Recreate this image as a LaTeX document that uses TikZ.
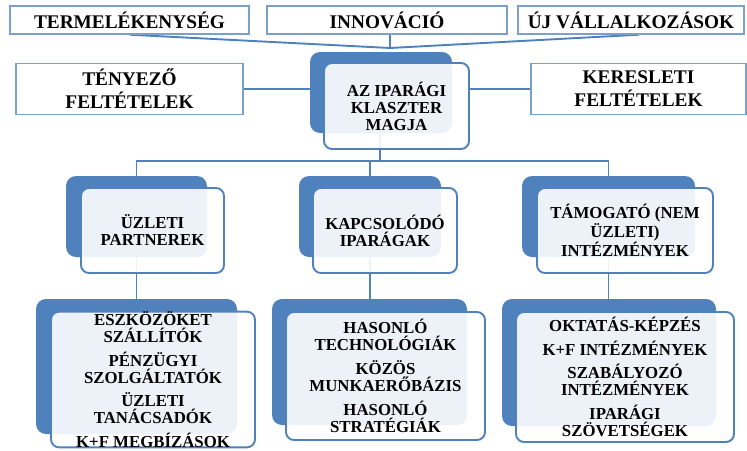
\documentclass[tikz,border=0pt]{standalone}
\usepackage{fontspec}
\setmainfont{Liberation Serif}
\usetikzlibrary{backgrounds}
\definecolor{accent}{HTML}{4F81BD}
\definecolor{frame}{HTML}{7BA0CE}
\tikzset{
  topbox/.style={draw=frame, line width=1.4pt, fill=white, inner sep=0pt,
    align=center, font=\fontsize{19.3}{23}\selectfont\bfseries},
  backbox/.style={fill=accent, rounded corners=10pt, inner sep=0pt},
  frontbox/.style={draw=accent, line width=1.9pt, fill=white, fill opacity=0.9,
    text opacity=1, rounded corners=8pt, inner sep=0pt, align=center,
    font=\fontsize{16.8}{17}\selectfont\bfseries},
  link/.style={draw=accent, line width=1.9pt}
}
\begin{document}
\begin{tikzpicture}[x=1pt,y=-1pt]
\useasboundingbox (0,0) rectangle (747,450);

% top row
\node[topbox, minimum width=239, minimum height=28] (t1) at (129.5,20) {TERMELÉKENYSÉG};
\node[topbox, minimum width=240, minimum height=28] (t2) at (387,20) {INNOVÁCIÓ};
\node[topbox, minimum width=226, minimum height=28] (t3) at (631,20) {ÚJ VÁLLALKOZÁSOK};

% side conditions
\node[topbox, minimum width=227, minimum height=51] (s1) at (129.5,89) {TÉNYEZŐ\\FELTÉTELEK};
\node[topbox, minimum width=215, minimum height=51] (s2) at (638.5,89) {KERESLETI\\FELTÉTELEK};

% core
\node[backbox, minimum width=142, minimum height=81] (cB) at (381,92.5) {};
\node[frontbox, minimum width=145, minimum height=86] (cF) at (396.5,106) {AZ IPARÁGI\\KLASZTER\\MAGJA};

% middle row
\node[backbox, minimum width=141, minimum height=81] (mB1) at (136.5,216.5) {};
\node[frontbox, minimum width=143, minimum height=85] (mF1) at (152.5,230.5) {ÜZLETI\\PARTNEREK};
\node[backbox, minimum width=142, minimum height=81] (mB2) at (370,216.5) {};
\node[frontbox, minimum width=144, minimum height=85] (mF2) at (385,230.5) {KAPCSOLÓDÓ\\IPARÁGAK};
\node[backbox, minimum width=173, minimum height=81] (mB3) at (608.5,216.5) {};
\node[frontbox, minimum width=176, minimum height=85] (mF3) at (625,230.5) {TÁMOGATÓ (NEM\\ÜZLETI)\\INTÉZMÉNYEK};

% bottom row
\node[backbox, minimum width=201, minimum height=135] (bB1) at (136.5,366.5) {};
\node[frontbox, minimum width=204, minimum height=135] (bF1) at (153,379.5)
  {ESZKÖZÖKET\\SZÁLLÍTÓK\\[6.5pt]PÉNZÜGYI\\SZOLGÁLTATÓK\\[6.5pt]ÜZLETI\\TANÁCSADÓK\\[6.5pt]K+F MEGBÍZÁSOK};
\node[backbox, minimum width=195, minimum height=126] (bB2) at (369.5,362) {};
\node[frontbox, minimum width=199, minimum height=128] (bF2) at (385.5,376)
  {HASONLÓ\\TECHNOLÓGIÁK\\[7pt]KÖZÖS\\MUNKAERŐBÁZIS\\[7pt]HASONLÓ\\STRATÉGIÁK};
\node[backbox, minimum width=214, minimum height=127] (bB3) at (609,362.5) {};
\node[frontbox, minimum width=218, minimum height=130] (bF3) at (625,377)
  {OKTATÁS-KÉPZÉS\\[6.5pt]K+F INTÉZMÉNYEK\\[6.5pt]SZABÁLYOZÓ\\INTÉZMÉNYEK\\[6.5pt]IPARÁGI\\SZÖVETSÉGEK};

% connectors, kept behind the boxes
\coordinate (hub) at (390,48);
\coordinate (bus) at (380,161);
\begin{scope}[on background layer]
  \draw[link] (t1.south) -- (hub);
  \draw[link] (t2.south -| hub) -- (hub);
  \draw[link] ([xshift=8pt]t3.south) -- (hub);
  \draw[link] (s1.east) -- (s1.east -| cB.west);
  \draw[link] (cF.east |- s2.west) -- (s2.west);
  \draw[link] (cB.south -| bus) -- (bus);
  \draw[link] (mB1.north) -- (mB1.north |- bus) -- (mB3.north |- bus) -- (mB3.north);
  \draw[link] (mB2.north |- bus) -- (mB2.north);
  \draw[link] (mB1.south) -- (mB1.south |- bB1.north);
  \draw[link] (mB2.south) -- (mB2.south |- bB2.north);
  \draw[link] (mB3.south) -- (mB3.south |- bB3.north);
\end{scope}
\end{tikzpicture}
\end{document}
